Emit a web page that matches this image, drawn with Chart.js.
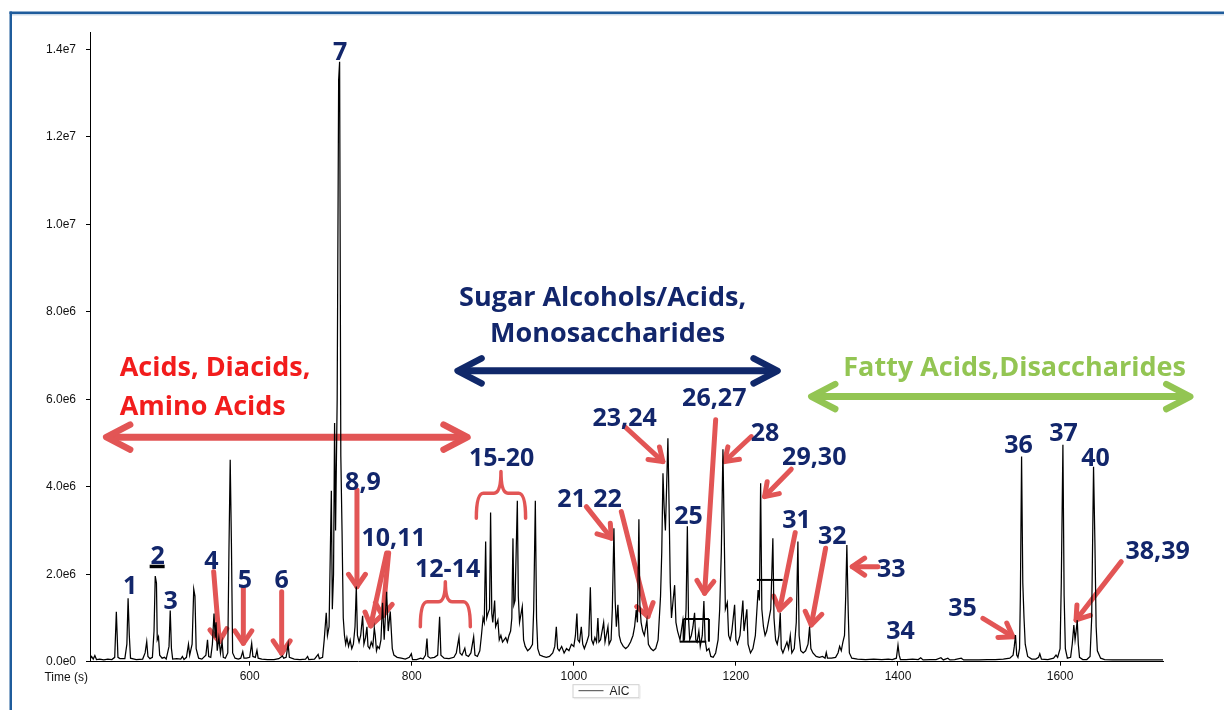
<!DOCTYPE html>
<html><head><meta charset="utf-8">
<script src="https://cdn.jsdelivr.net/npm/chart.js@4/dist/chart.umd.min.js"></script>
<style>html,body{margin:0;padding:0;background:#fff;}#wrap{width:1224px;height:710px;position:relative;}</style>
</head><body><div id="wrap"><canvas id="c"></canvas></div>
<script>
// ---------- data ----------
const seriesName = 'AIC';
const xTitle = 'Time (s)';
const timeSec = [403,405,407,409,411,415,420,425,430,433.5,435.5,437.5,440,446,448.5,450,451.5,453,460,468,471,473,474.5,477,480,482,483.5,485,486,487.5,489,492,495,497,500.5,502,503.5,505,510,515,517,519,522,524.5,526,529,531,532.5,534,537,541,546,548,549.5,552,554,556,557.5,558.5,560,562,564,566,567.5,570,573,574.5,576,577.5,579,582,586,589,591.5,593,596,600,602.5,604,607,609,610.5,615,622,630,636,640.5,642,645,647.5,649,655,662,669,671.5,673,680,684.5,686,690,692,694.5,696,698,700.8,702,703.5,704.8,706,708,709.8,711,712.5,714,715.5,717,718.5,720,722,724,726,728,730,731.6,733,735,737,739.4,741,743,744.7,746,748,750,752,753.8,755,756.5,758,760,762,764,766,769,771,773.5,776,778,782,787,792,797,799.5,801,806,811,814,817,818.8,820,823,828,832,834.4,836,840,846,852,855,858.3,859.5,862,865.5,867,870,873,876.4,878,881,884,886,888,889.5,891.2,892.5,894,896,897.3,898.8,900,902.3,903.5,906.3,908,910,912,914,916,918,920,922,923.5,924.9,926,927.5,930.3,931.5,933,936.4,938,940,943,946,949,950.5,952.5,954,955.5,958,962,966,970,974,976.5,978.4,980,982,985,988,991,994,997,1000,1002,1003.8,1005,1007,1009.2,1011,1013,1016,1018.5,1020.4,1022,1024,1026,1028,1029.7,1031,1033,1036.8,1038.5,1042.1,1043.5,1046,1047.5,1049.5,1051,1052.5,1054.4,1056,1058,1061,1064,1067,1070,1073,1075,1077,1078.5,1080.3,1081.5,1083,1085,1087,1090.2,1092,1095,1098,1101,1104,1107,1108.5,1110,1111.5,1113,1114.5,1116.1,1117.5,1119,1120.5,1122.5,1124.4,1126,1128,1131,1134.6,1136.5,1138.5,1140.1,1141.5,1143,1145,1147,1149,1150.5,1152,1154.3,1156,1158.5,1160.5,1162,1164,1166.7,1169,1172,1175,1178,1180,1182,1184,1185.5,1187,1189.4,1191,1193,1195,1198.4,1200,1202,1205,1208.6,1210,1213.5,1215,1218,1221,1224,1227.4,1229,1230.5,1232,1234,1236,1238,1240,1243,1245.6,1247,1249,1251,1253,1254.7,1256,1258,1260,1263,1265,1267.1,1269,1272,1274.5,1276.5,1278,1280,1283,1286,1289,1290.9,1292.5,1295,1299,1303,1307,1310,1311.5,1313,1318,1323,1326,1328,1330,1332,1334,1335.5,1336.9,1338.5,1340,1343,1350,1360,1370,1380,1388,1393,1398,1400,1401.5,1403,1410,1418,1425,1428,1431,1440,1447,1453,1456,1461.5,1464,1470,1478,1481,1490,1500,1510,1520,1530,1538,1542,1543.5,1545,1546.5,1548,1550,1551,1552.5,1554,1555.5,1557,1560,1565,1570,1573.5,1575,1577,1585,1592,1595,1597,1600,1601.5,1603.5,1605,1606.5,1609,1613,1615,1617,1618.5,1619.8,1621.2,1622.5,1624,1628,1633,1637,1639,1641.3,1643,1644.5,1646,1650,1655,1665,1680,1700,1727];
const signalMillions = [0.05,0.12,0.06,0.14,0.05,0.06,0.04,0.06,0.05,0.10,1.14,0.10,0.07,0.07,0.40,1.45,0.60,0.08,0.05,0.06,0.20,0.46,0.12,0.07,0.10,0.70,1.96,1.80,0.50,0.57,0.15,0.08,0.10,0.06,0.35,1.17,0.30,0.06,0.07,0.06,0.12,0.05,0.10,0.40,0.15,0.40,1.66,1.50,0.30,0.08,0.06,0.15,0.50,0.12,0.10,0.40,1.10,0.55,0.90,0.25,0.55,0.20,0.45,0.10,0.08,0.20,2.60,4.62,2.70,0.20,0.08,0.06,0.08,0.23,0.08,0.08,0.10,0.42,0.12,0.10,0.26,0.08,0.06,0.05,0.05,0.07,0.13,0.08,0.10,0.40,0.10,0.06,0.05,0.06,0.12,0.05,0.06,0.17,0.07,0.10,0.50,1.12,0.60,0.80,3.91,1.20,2.00,5.46,3.00,6.00,13.30,13.72,4.69,3.00,1.00,0.60,0.40,0.55,0.35,0.50,0.30,0.40,0.80,1.72,0.60,0.45,0.60,1.05,0.40,0.55,0.80,0.35,0.30,0.45,0.35,0.77,0.60,0.25,0.35,0.30,0.50,1.35,0.50,1.60,0.70,1.15,0.30,0.15,0.10,0.08,0.06,0.10,0.18,0.05,0.05,0.08,0.06,0.15,0.53,0.12,0.08,0.10,0.15,1.03,0.15,0.08,0.07,0.10,0.20,0.56,0.20,0.15,0.31,0.15,0.12,0.20,0.57,0.15,0.12,0.25,0.60,1.00,0.90,2.75,1.00,1.10,1.20,3.41,1.10,0.90,1.40,0.80,0.95,0.50,0.60,0.45,0.50,0.55,0.45,0.60,0.70,1.00,2.82,1.30,1.40,3.68,1.50,0.90,1.26,0.50,0.35,0.25,0.30,0.40,1.20,3.68,1.00,0.30,0.15,0.12,0.10,0.12,0.20,0.35,0.80,0.30,0.25,0.35,0.20,0.30,0.25,0.40,0.35,0.60,1.10,0.50,0.45,0.80,0.40,0.30,0.45,0.60,1.70,0.50,0.40,0.55,0.45,1.00,0.45,0.50,0.90,0.45,0.80,0.40,0.50,1.20,3.05,1.40,0.80,1.30,0.60,0.45,0.35,0.30,0.35,0.45,0.60,0.80,1.18,0.90,3.26,1.30,0.90,0.70,0.60,0.95,0.40,0.30,0.25,0.30,0.50,1.50,2.50,4.31,3.50,3.00,4.00,5.11,3.60,1.80,1.00,1.40,1.75,0.90,0.70,0.50,0.95,0.50,1.20,3.10,1.00,0.50,0.60,0.80,1.12,0.50,0.45,0.70,0.35,0.60,1.39,0.50,0.25,0.30,0.12,0.10,0.20,0.50,1.20,2.50,4.86,3.00,1.20,1.35,0.60,0.50,0.70,1.30,0.50,0.40,0.60,1.40,0.70,1.20,0.40,0.20,0.30,0.60,1.64,1.40,4.08,1.20,0.80,0.60,0.70,0.90,1.20,2.82,1.00,0.50,0.40,0.60,1.12,0.30,0.20,0.30,0.45,0.30,0.60,0.20,0.30,0.90,2.75,0.60,0.25,0.20,0.25,0.40,0.80,0.30,0.20,0.12,0.10,0.12,0.08,0.21,0.08,0.08,0.10,0.20,0.35,0.25,0.45,0.60,1.50,2.67,1.20,0.20,0.08,0.06,0.05,0.06,0.05,0.06,0.05,0.08,0.38,0.15,0.05,0.05,0.06,0.05,0.09,0.04,0.05,0.05,0.09,0.04,0.08,0.04,0.05,0.08,0.04,0.04,0.04,0.05,0.05,0.06,0.08,0.15,0.35,0.61,0.15,0.10,0.30,1.50,4.69,1.80,1.00,0.40,0.12,0.06,0.06,0.10,0.18,0.06,0.05,0.08,0.15,0.10,0.30,1.80,4.96,1.50,0.30,0.08,0.10,0.40,0.84,0.50,0.70,0.95,0.40,0.10,0.05,0.05,0.12,1.00,4.46,2.70,0.80,0.25,0.08,0.05,0.04,0.04,0.04,0.04];
const xTickValues = [600, 800, 1000, 1200, 1400, 1600];
const yTickValues = [0, 2e6, 4e6, 6e6, 8e6, 1.0e7, 1.2e7, 1.4e7];

// peak number labels (time, signal in millions at label centre)
const peakLabels = ['1','2','3','4','5','6','7','8,9','10,11','12-14','15-20','21','22','23,24','25','26,27','28','29,30','31','32','33','34','35','36','37','38,39','40'];
const peakLabelTime = [452.6,486.5,502.5,552.7,594.2,639.5,711.7,739.8,777.7,844.3,910.9,997.3,1041.7,1062.7,1141.6,1173.3,1236.0,1296.7,1274.9,1318.9,1391.7,1403.2,1479.7,1548.8,1604.3,1720.3,1643.8];
const peakLabelMillions = [1.744,2.430,1.412,2.316,1.892,1.892,13.96,4.135,2.853,2.133,4.691,3.735,3.735,5.600,3.357,6.064,5.256,4.696,3.265,2.899,2.137,0.725,1.259,4.982,5.245,2.545,4.673];

// class labels
const classLabels = ['Acids, Diacids,','Amino Acids','Sugar Alcohols/Acids,','Monosaccharides','Fatty Acids,Disaccharides'];
const classLabelTime = [439.6,439.6,1035.5,1041.7,1543.9];
const classLabelMillions = [6.766,5.856,8.345,7.522,6.744];
const classLabelAlign = ['left','left','center','center','center'];
const classLabelColor = ['#f21c1c','#f21c1c','#12266b','#12266b','#93c553'];

// class ranges (double arrows): start time, end time, level (millions)
const rangeStart = [423.0, 856.6, 1293.0];
const rangeEnd = [868.8, 1251.4, 1760.6];
const rangeLevel = [5.135, 6.652, 6.064];
const rangeColor = ['#e25555','#10286a','#93c553'];

// pointer arrows: [fromTime, fromMillions, toTime, toMillions]
const pointerArrows = [
  [555.6,2.059,562.6,0.458],[592.2,1.680,592.2,0.421],[639.5,1.602,639.5,0.192],
  [732.4,3.929,732.4,1.716],[769.0,2.487,749.3,0.819],[771.5,2.487,764.1,1.046],
  [1015.4,3.547,1046.3,2.824],[1058.6,3.432,1091.4,1.030],[1062.7,5.378,1109.9,4.577],
  [1175.0,5.531,1161.4,1.565],[1219.0,5.149,1186.1,4.577],[1268.3,4.403,1235.4,3.776],
  [1273.2,2.952,1253.9,1.183],[1310.7,2.595,1293.0,0.840],[1375.2,2.174,1343.6,2.174],
  [1504.8,0.993,1541.8,0.572],[1675.5,2.288,1619.7,0.954]
];
// braces: [left, right, endMillions, barMillions, tipMillions]
const braces = [[810.6,872.3,0.801,1.373,1.831],[879.7,940.5,3.281,3.854,4.348]];
// stray black marks: [t1, m1, t2, m2, width]
const blackMarks = [
  [1135.5,0.977,1166.7,0.977,2],[1135.5,0.977,1135.5,0.458,2],[1166.7,0.977,1166.7,0.458,2],
  [1130.6,0.458,1163.5,0.458,2],[1225.9,1.870,1257.7,1.870,2],[476.6,2.178,495.1,2.178,3.5]
];

// ---------- drawing helpers ----------
function arrowHead(ctx, x1, y1, x2, y2, len, ang) {
  const a = Math.atan2(y2 - y1, x2 - x1);
  ctx.beginPath();
  ctx.moveTo(x2 - len * Math.cos(a - ang), y2 - len * Math.sin(a - ang));
  ctx.lineTo(x2, y2);
  ctx.lineTo(x2 - len * Math.cos(a + ang), y2 - len * Math.sin(a + ang));
  ctx.stroke();
}
const NUM_FONT = 'bold 25px "Open Sans", "DejaVu Sans", sans-serif';
const CLASS_FONT = 'bold 27px "Open Sans", "DejaVu Sans", sans-serif';

const overlay = {
  id: 'overlay',
  beforeDraw(chart) {
    const ctx = chart.ctx;
    ctx.save(); ctx.fillStyle = '#fff'; ctx.fillRect(0, 0, chart.width, chart.height); ctx.restore();
  },
  beforeDatasetsDraw(chart) {
    const ctx = chart.ctx, xs = chart.scales.x, ys = chart.scales.y;
    const X = t => xs.getPixelForValue(t), Y = m => ys.getPixelForValue(m * 1e6);
    ctx.save();
    ctx.lineCap = 'round'; ctx.lineJoin = 'round';
    rangeStart.forEach((s, i) => {
      const x1 = X(s), x2 = X(rangeEnd[i]), y = Y(rangeLevel[i]);
      ctx.strokeStyle = rangeColor[i]; ctx.lineWidth = 7;
      ctx.beginPath(); ctx.moveTo(x1 + 3, y); ctx.lineTo(x2 - 3, y); ctx.stroke();
      ctx.lineWidth = 6.5;
      arrowHead(ctx, x2 - 10, y, x2, y, 27, 0.48);
      arrowHead(ctx, x1 + 10, y, x1, y, 27, 0.48);
    });
    ctx.strokeStyle = '#e25555';
    pointerArrows.forEach(a => {
      const x1 = X(a[0]), y1 = Y(a[1]), x2 = X(a[2]), y2 = Y(a[3]);
      ctx.lineWidth = 5;
      ctx.beginPath(); ctx.moveTo(x1, y1); ctx.lineTo(x2, y2); ctx.stroke();
      arrowHead(ctx, x1, y1, x2, y2, 15, 0.6);
    });
    ctx.lineWidth = 3.5;
    braces.forEach(b => {
      const l = X(b[0]), r = X(b[1]), c = (l + r) / 2, ye = Y(b[2]), yb = Y(b[3]), yt = Y(b[4]);
      const rr = 7;
      ctx.beginPath();
      ctx.moveTo(l, ye);
      ctx.quadraticCurveTo(l, yb, l + rr, yb);
      ctx.lineTo(c - rr, yb);
      ctx.quadraticCurveTo(c, yb, c, yt);
      ctx.moveTo(c, yt);
      ctx.quadraticCurveTo(c, yb, c + rr, yb);
      ctx.lineTo(r - rr, yb);
      ctx.quadraticCurveTo(r, yb, r, ye);
      ctx.stroke();
    });
    ctx.restore();
  },
  afterDraw(chart) {
    const ctx = chart.ctx, xs = chart.scales.x, ys = chart.scales.y, ca = chart.chartArea;
    const X = t => xs.getPixelForValue(t), Y = m => ys.getPixelForValue(m * 1e6);
    ctx.save();
    ctx.strokeStyle = '#000'; ctx.lineCap = 'butt';
    blackMarks.forEach(m => {
      ctx.lineWidth = m[4];
      ctx.beginPath(); ctx.moveTo(X(m[0]), Y(m[1])); ctx.lineTo(X(m[2]), Y(m[3])); ctx.stroke();
    });
    ctx.font = NUM_FONT; ctx.textBaseline = 'alphabetic'; ctx.textAlign = 'center';
    ctx.fillStyle = '#12266b';
    peakLabels.forEach((s, i) => ctx.fillText(s, X(peakLabelTime[i]), Y(peakLabelMillions[i]) + 9));
    ctx.font = CLASS_FONT;
    classLabels.forEach((s, i) => {
      ctx.textAlign = classLabelAlign[i]; ctx.fillStyle = classLabelColor[i];
      ctx.fillText(s, X(classLabelTime[i]), Y(classLabelMillions[i]) + 9.7);
    });
    ctx.font = '12px "Liberation Sans", Arial, sans-serif';
    ctx.fillStyle = '#111'; ctx.textAlign = 'right'; ctx.textBaseline = 'middle';
    ctx.fillText(xTitle, ca.left - 2, ca.bottom + 15.5);
    const lx = chart.width / 2 - 39.5, ly = ca.bottom + 22.5;
    ctx.strokeStyle = '#d0d0d0'; ctx.lineWidth = 1;
    ctx.strokeRect(lx + 0.5, ly + 0.5, 66, 13);
    ctx.strokeStyle = '#e8e8e8';
    ctx.beginPath(); ctx.moveTo(lx + 1.5, ly + 14.5); ctx.lineTo(lx + 67.5, ly + 14.5); ctx.lineTo(lx + 67.5, ly + 1.5); ctx.stroke();
    ctx.strokeStyle = '#444';
    ctx.beginPath(); ctx.moveTo(lx + 6, ly + 6.5); ctx.lineTo(lx + 31, ly + 6.5); ctx.stroke();
    ctx.textAlign = 'left'; ctx.fillStyle = '#222';
    ctx.fillText(seriesName, lx + 37, ly + 7);
    ctx.fillStyle = '#1f5c9c';
    ctx.fillRect(9.5, 11.5, chart.width - 9.5, 2.5);
    ctx.fillRect(9.5, 11.5, 2.5, chart.height - 11.5);
    ctx.fillStyle = 'rgba(31,92,156,0.22)';
    ctx.fillRect(12, 14, chart.width - 12, 1.5);
    ctx.restore();
  }
};

const points = timeSec.map((t, i) => ({ x: t, y: signalMillions[i] * 1e6 }));

new Chart(document.getElementById('c'), {
  type: 'line',
  data: { datasets: [{ label: seriesName, data: points, borderColor: '#000', borderWidth: 1.25, pointRadius: 0, tension: 0, fill: false }] },
  options: {
    responsive: true, maintainAspectRatio: false, animation: false,
    layout: { padding: { top: 32, right: 61, bottom: 0, left: 0 } },
    plugins: { legend: { display: false }, tooltip: { enabled: false } },
    scales: {
      x: {
        type: 'linear', min: 403, max: 1727,
        afterBuildTicks: s => { s.ticks = xTickValues.map(v => ({ value: v })); },
        afterFit: s => { s.height = 48.3; },
        grid: { display: true, drawOnChartArea: false, drawTicks: true, tickLength: 4, color: '#000', lineWidth: 1 },
        border: { display: true, color: '#000', width: 1 },
        ticks: { font: { family: '"Liberation Sans", Arial, sans-serif', size: 12 }, color: '#111', padding: 4, maxRotation: 0, autoSkip: false, callback: v => String(v) }
      },
      y: {
        type: 'linear', min: 0, max: 1.44e7,
        afterBuildTicks: s => { s.ticks = yTickValues.map(v => ({ value: v })); },
        afterFit: s => { s.width = 90; },
        grid: { display: true, drawOnChartArea: false, drawTicks: true, tickLength: 4, color: '#000', lineWidth: 1 },
        border: { display: true, color: '#000', width: 1 },
        ticks: { font: { family: '"Liberation Sans", Arial, sans-serif', size: 12 }, color: '#111', padding: 10, autoSkip: false, callback: v => Number(v).toExponential(1).replace('e+', 'e') }
      }
    }
  },
  plugins: [overlay]
});
</script>
</body></html>
